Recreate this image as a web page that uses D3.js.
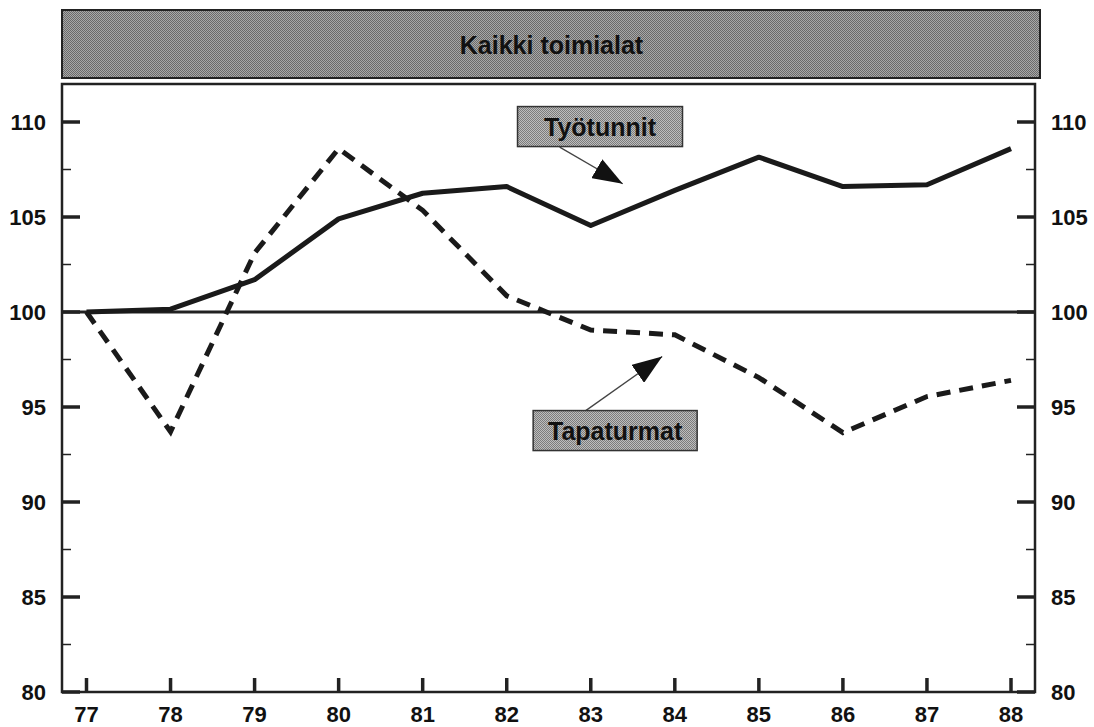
<!DOCTYPE html>
<html>
<head>
<meta charset="utf-8">
<script src="https://cdn.jsdelivr.net/npm/d3@7"></script>
<style>
  body { margin: 0; background: #fff; }
  svg { display: block; font-family: "Liberation Sans", Arial, sans-serif; }
</style>
</head>
<body>
<div id="chart"></div>
<script>
// data
var years = [77, 78, 79, 80, 81, 82, 83, 84, 85, 86, 87, 88];
var tyotunnit = [100, 100.15, 101.7, 104.9, 106.25, 106.6, 104.55, 106.4, 108.15, 106.6, 106.7, 108.6];
var tapaturmat = [100, 93.7, 103.1, 108.6, 105.35, 100.85, 99.05, 98.8, 96.55, 93.65, 95.55, 96.4];
var yMajor = [80, 85, 90, 95, 100, 105, 110];
var yMinor = [82.5, 87.5, 92.5, 97.5, 102.5, 107.5];
var title = "Kaikki toimialat";
// label boxes: centre (year,value), arrow from (year,value) to (year,value)
var notes = [
  {text: "Työtunnit", cx: 83.11, cy: 109.76, w: 165, x1: 82.63, y1: 108.68, x2: 83.38, y2: 106.75},
  {text: "Tapaturmat", cx: 83.29, cy: 93.76, w: 164, x1: 82.94, y1: 94.81, x2: 83.85, y2: 97.66}
];

var W = 1094, H = 727;
var plotL = 62, plotR = 1035, plotT = 84, plotB = 692;

var x = d3.scaleLinear().domain([77, 88]).range([86.5, 1011]);
var y = d3.scaleLinear().domain([80, 112]).range([plotB, plotT]);

var svg = d3.select("#chart").append("svg")
    .attr("width", W)
    .attr("height", H);

var defs = svg.append("defs");
// halftone-ish grey screens
function screen(id, dark, light) {
    var p = defs.append("pattern")
        .attr("id", id)
        .attr("width", 2).attr("height", 2)
        .attr("patternUnits", "userSpaceOnUse");
    p.append("rect").attr("width", 2).attr("height", 2).attr("fill", light);
    p.append("rect").attr("width", 1).attr("height", 1).attr("fill", dark);
    p.append("rect").attr("x", 1).attr("y", 1).attr("width", 1).attr("height", 1).attr("fill", dark);
}
screen("screen", "#6a6a6a", "#a8a8a8");
screen("screen2", "#7c7c7c", "#bdbdbd");

defs.append("marker")
    .attr("id", "head")
    .attr("markerUnits", "userSpaceOnUse")
    .attr("viewBox", "0 0 30 22")
    .attr("refX", 30).attr("refY", 11)
    .attr("markerWidth", 30).attr("markerHeight", 22)
    .attr("orient", "auto")
    .append("path")
    .attr("d", "M0,0 L30,11 L0,22 Z")
    .attr("fill", "#111");

// title banner
svg.append("rect")
    .attr("x", plotL).attr("y", 10)
    .attr("width", plotR - plotL + 5).attr("height", 68)
    .attr("fill", "url(#screen)")
    .attr("stroke", "#222").attr("stroke-width", 2);
svg.append("text")
    .attr("x", (plotL + plotR) / 2 + 3).attr("y", 54)
    .attr("text-anchor", "middle")
    .attr("font-size", 25).attr("font-weight", "bold")
    .attr("fill", "#111")
    .text(title);

// frame
svg.append("rect")
    .attr("x", plotL).attr("y", plotT)
    .attr("width", plotR - plotL).attr("height", plotB - plotT)
    .attr("fill", "none")
    .attr("stroke", "#222").attr("stroke-width", 2.5);

// y ticks both sides
var g = svg.append("g").attr("stroke", "#222");
g.selectAll(".ml").data(yMajor).enter().append("line")
    .attr("x1", plotL).attr("x2", plotL + 18)
    .attr("y1", d => y(d)).attr("y2", d => y(d))
    .attr("stroke-width", 3.5);
g.selectAll(".mr").data(yMajor).enter().append("line")
    .attr("x1", plotR).attr("x2", plotR - 18)
    .attr("y1", d => y(d)).attr("y2", d => y(d))
    .attr("stroke-width", 3.5);
g.selectAll(".nl").data(yMinor).enter().append("line")
    .attr("x1", plotL).attr("x2", plotL + 9)
    .attr("y1", d => y(d)).attr("y2", d => y(d))
    .attr("stroke-width", 1.5);
g.selectAll(".nr").data(yMinor).enter().append("line")
    .attr("x1", plotR).attr("x2", plotR - 9)
    .attr("y1", d => y(d)).attr("y2", d => y(d))
    .attr("stroke-width", 1.5);
// x ticks
g.selectAll(".xt").data(years).enter().append("line")
    .attr("x1", d => x(d)).attr("x2", d => x(d))
    .attr("y1", plotB).attr("y2", plotB - 14)
    .attr("stroke-width", 3.5);

var lab = svg.append("g")
    .attr("font-size", 22).attr("font-weight", "bold").attr("fill", "#111");
lab.selectAll(".yl").data(yMajor).enter().append("text")
    .attr("x", 46).attr("y", d => y(d) + 8)
    .attr("text-anchor", "end")
    .text(d => d);
lab.selectAll(".yr").data(yMajor).enter().append("text")
    .attr("x", 1051).attr("y", d => y(d) + 8)
    .text(d => d);
lab.selectAll(".xl").data(years).enter().append("text")
    .attr("x", d => x(d)).attr("y", 722)
    .attr("text-anchor", "middle")
    .text(d => d);

// reference line at 100
svg.append("line")
    .attr("x1", plotL).attr("x2", plotR)
    .attr("y1", y(100)).attr("y2", y(100))
    .attr("stroke", "#222").attr("stroke-width", 3);

var line = d3.line()
    .x((d, i) => x(years[i]))
    .y(d => y(d));

svg.append("path")
    .datum(tapaturmat)
    .attr("d", line)
    .attr("fill", "none")
    .attr("stroke", "#1a1a1a")
    .attr("stroke-width", 5)
    .attr("stroke-dasharray", "14,9");

svg.append("path")
    .datum(tyotunnit)
    .attr("d", line)
    .attr("fill", "none")
    .attr("stroke", "#1a1a1a")
    .attr("stroke-width", 5)
    .attr("stroke-linejoin", "round");

// annotation boxes with arrows
notes.forEach(function(n) {
    svg.append("line")
        .attr("x1", x(n.x1)).attr("y1", y(n.y1))
        .attr("x2", x(n.x2)).attr("y2", y(n.y2))
        .attr("stroke", "#444").attr("stroke-width", 1.3)
        .attr("marker-end", "url(#head)");
    var bx = x(n.cx), by = y(n.cy);
    svg.append("rect")
        .attr("x", bx - n.w / 2).attr("y", by - 20)
        .attr("width", n.w).attr("height", 40)
        .attr("fill", "url(#screen2)")
        .attr("stroke", "#333").attr("stroke-width", 1.5);
    svg.append("text")
        .attr("x", bx).attr("y", by + 9)
        .attr("text-anchor", "middle")
        .attr("font-size", 25).attr("font-weight", "bold")
        .attr("fill", "#111")
        .text(n.text);
});
</script>
</body>
</html>
